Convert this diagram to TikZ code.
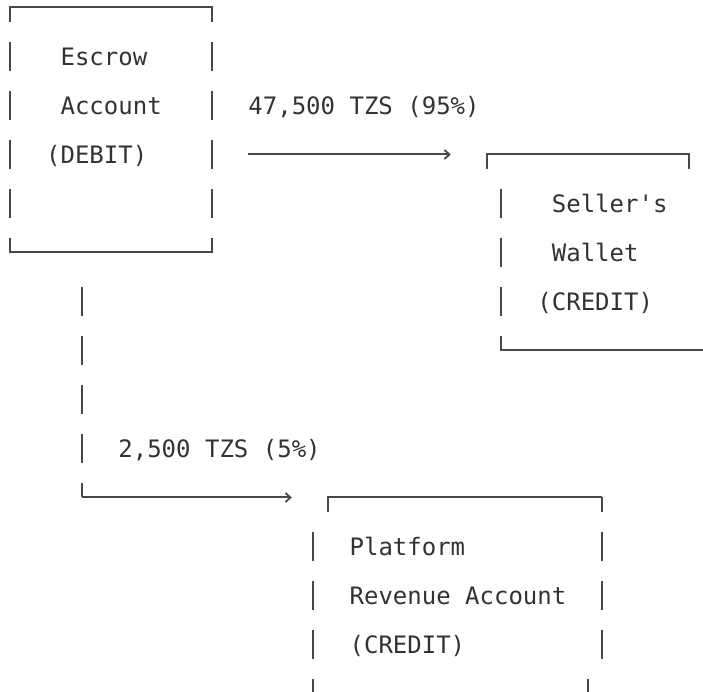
\documentclass[tikz,border=0pt]{standalone}
\usepackage{fontspec}
\setmonofont{DejaVu Sans Mono}
\usetikzlibrary{arrows.meta}
\definecolor{inkgray}{RGB}{50,50,50}
\definecolor{rulegray}{RGB}{72,72,72}
\tikzset{
  txt/.style={anchor=base west, inner sep=0pt, outer sep=0pt, yshift=-8.75pt,
    text=inkgray, font=\ttfamily\fontsize{24}{24}\selectfont},
  boxline/.style={draw=rulegray, line width=2pt},
  rowbars/.style={dash pattern=on 29pt off 20pt, dash phase=#1},
  rowbars/.default=0pt,
  flow/.style={boxline, -{Straight Barb[length=5pt, width=9pt, line width=1.8pt]}}
}
\begin{document}
\begin{tikzpicture}[x=14.45pt, y=-49pt]
      \useasboundingbox (-0.194,-0.153) rectangle (48.457,13.969);

      \node[txt] (e1) at (4,1) {Escrow};
      \node[txt] (e2) at (4,2) {Account};
      \node[txt] (e3) at (3,3) {(DEBIT)};
      \node[txt] (s1) at (38,4) {Seller's};
      \node[txt] (s2) at (38,5) {Wallet};
      \node[txt] (s3) at (37,6) {(CREDIT)};
      \node[txt] (p1) at (24,11) {Platform};
      \node[txt] (p2) at (24,12) {Revenue Account};
      \node[txt] (p3) at (24,13) {(CREDIT)};
      \node[txt] (l95) at (17,2) {47,500 TZS (95\%)};
      \node[txt] (l5) at (8,9) {2,500 TZS (5\%)};

      \coordinate (etl) at (0.5,0);   \coordinate (etr) at (14.5,0);
      \coordinate (ebl) at (0.5,5);   \coordinate (ebr) at (14.5,5);
      \coordinate (stl) at (33.5,3);  \coordinate (str) at (47.5,3);
      \coordinate (sl) at (34.5,4);   \coordinate (sr) at (48.52,4);
      \coordinate (sbl) at (34.5,7);  \coordinate (sbr) at (48.52,7);
      \coordinate (ptl) at (22.5,10); \coordinate (ptr) at (41.5,10);
      \coordinate (prb) at (41.5,13); \coordinate (pl) at (21.5,11);
      \coordinate (plb) at (21.5,14.3); \coordinate (pbr) at (40.5,14);
      \coordinate (a0) at (17,3);     \coordinate (a1) at (31,3);
      \coordinate (d0) at (5.5,6);    \coordinate (d1) at (5.5,10);
      \coordinate (d2) at (20,10);

      \draw[boxline] (etl) ++(0,-14.5pt) -- (etl) -- (etr) -- ++(0,-14.5pt);
      \draw[boxline] (ebl) ++(0,14.5pt) -- (ebl) -- (ebr) -- ++(0,14.5pt);
      \draw[boxline, rowbars=14.5pt] (etl) -- (ebl) (etr) -- (ebr);

      \draw[boxline] (stl) ++(0,-14.5pt) -- (stl) -- (str) -- ++(0,-14.5pt);
      \draw[boxline] (sbl) ++(0,14.5pt) -- (sbl) -- (sbr);
      \draw[boxline, rowbars] ([yshift=14.5pt]sl) -- (sbl) ([yshift=14.5pt]sr) -- ([yshift=14.5pt]sbr);

      \draw[boxline] (ptl) ++(0,-14.5pt) -- (ptl) -- (ptr);
      \draw[boxline, rowbars=14.5pt] (ptr) -- ([yshift=-14.5pt]prb);
      \draw[boxline, rowbars] ([yshift=14.5pt]pl) -- (plb);
      \draw[boxline] ([yshift=14.5pt]pbr) -- ++(0,-20pt);

      \draw[flow] (a0) -- (a1);
      \draw[boxline, rowbars] ([yshift=14.5pt]d0) -- (d1);
      \draw[flow] (d1) -- (d2);
    \end{tikzpicture}
\end{document}
